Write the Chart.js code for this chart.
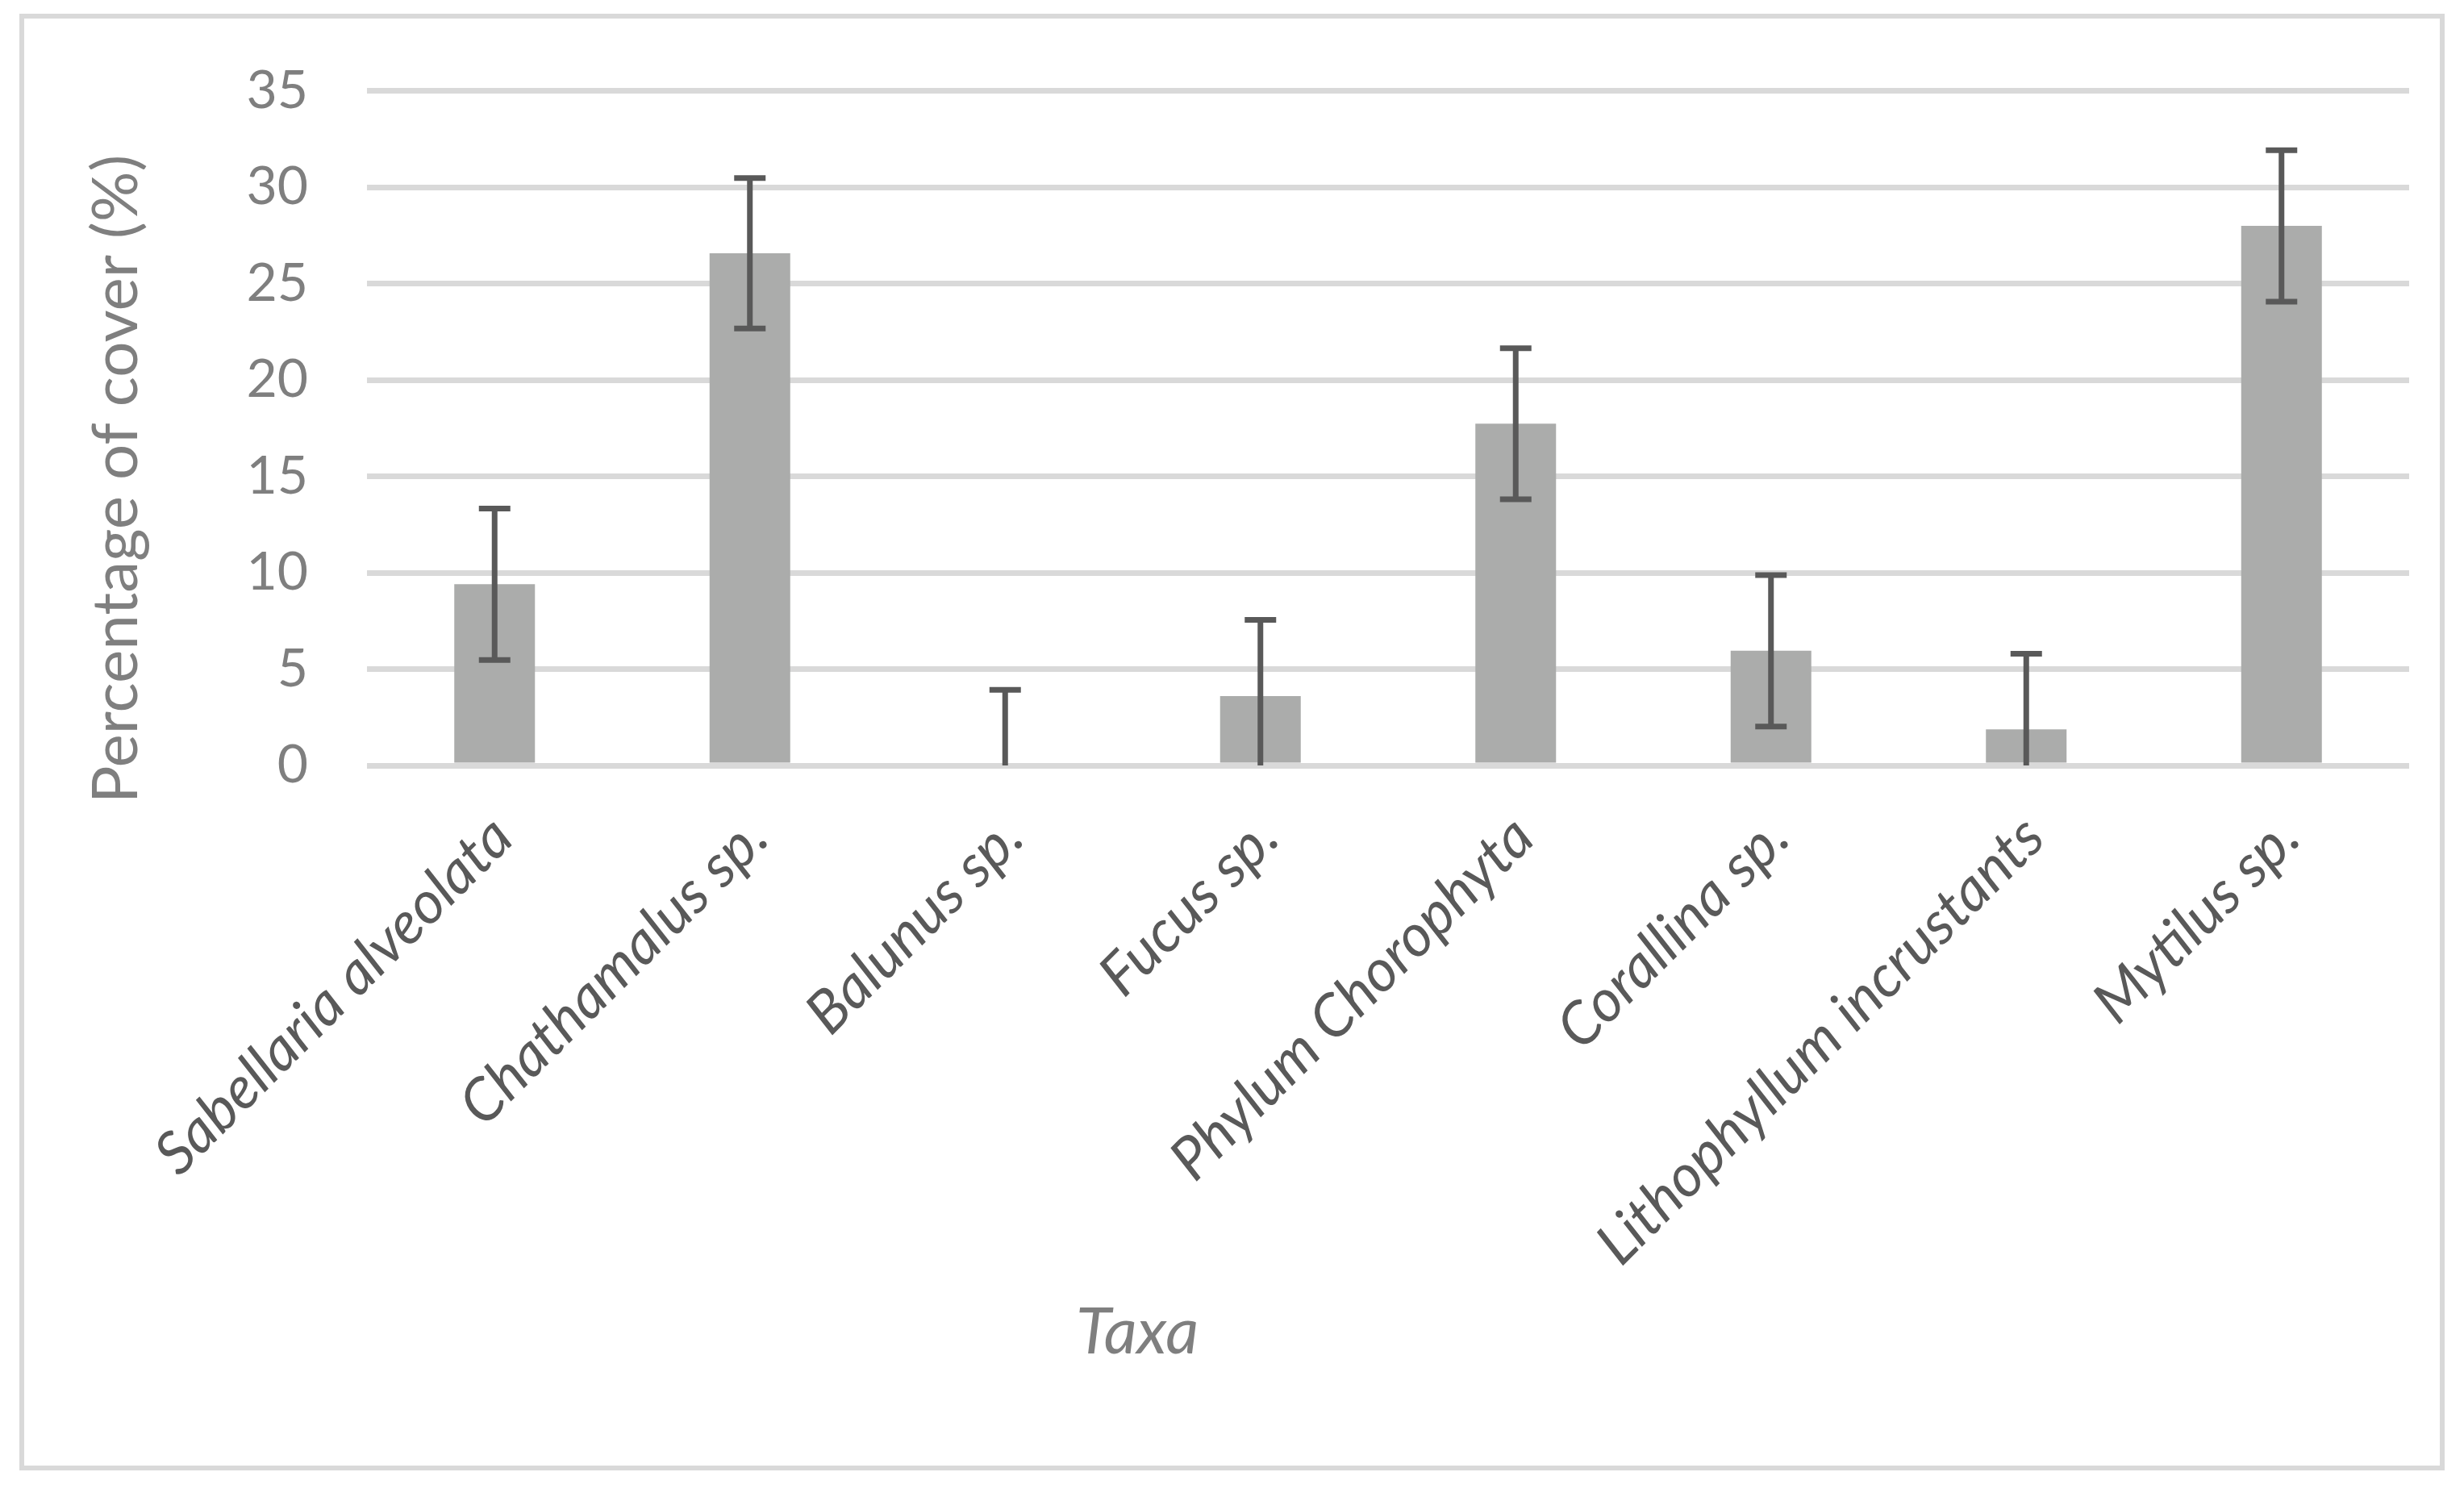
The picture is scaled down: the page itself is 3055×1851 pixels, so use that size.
<!DOCTYPE html>
<html>
<head>
<meta charset="utf-8">
<title>Percentage of cover by taxa</title>
<script src="https://cdn.jsdelivr.net/npm/chart.js@4.4.1/dist/chart.umd.min.js"></script>
<style>
  html, body { margin: 0; padding: 0; background: #fff; }
  #wrap { width: 3055px; height: 1851px; }
</style>
</head>
<body>
<div id="wrap"><canvas id="myChart" width="3055" height="1851"></canvas></div>
<script>
// values
const taxa = [
  "Sabellaria alveolata",
  "Chathamalus sp.",
  "Balunus sp.",
  "Fucus sp.",
  "Phylum Chorophyta",
  "Corallina sp.",
  "Lithophyllum incrustants",
  "Mytilus sp.",
];
const cover = [9.4, 26.57, 0, 3.6, 17.73, 5.95, 1.87, 27.99];
const coverError = [3.93, 3.9, 3.92, 3.95, 3.92, 3.93, 3.93, 3.93];
const yTicks = [0, 5, 10, 15, 20, 25, 30, 35];

const yTitle = "Percentage of cover (%)";
const xTitle = "Taxa";

// error bars, clipped to the plot area like Excel does
const errorBars = {
  id: "errorBars",
  afterDatasetsDraw(chart) {
    const { ctx, chartArea: area } = chart;
    const y = chart.scales.y;
    const meta = chart.getDatasetMeta(0);
    ctx.save();
    ctx.beginPath();
    ctx.rect(area.left, area.top - 30, area.width, area.height + 30);
    ctx.clip();
    ctx.strokeStyle = "#595959";
    ctx.lineWidth = 7;
    meta.data.forEach((bar, i) => {
      const x = bar.x;
      const hi = y.getPixelForValue(cover[i] + coverError[i]);
      const lo = y.getPixelForValue(cover[i] - coverError[i]);
      ctx.beginPath();
      ctx.moveTo(x, hi);
      ctx.lineTo(x, lo);
      ctx.moveTo(x - 19.5, hi);
      ctx.lineTo(x + 19.5, hi);
      ctx.moveTo(x - 19.5, lo);
      ctx.lineTo(x + 19.5, lo);
      ctx.stroke();
    });
    ctx.restore();
  },
};

// axis titles + outer chart frame
const frame = {
  id: "frame",
  afterDraw(chart) {
    const { ctx } = chart;
    ctx.save();
    ctx.fillStyle = "#7f7f7f";
    ctx.font = "78px Lato";
    ctx.textAlign = "center";
    ctx.textBaseline = "alphabetic";
    ctx.translate(170, 594);
    ctx.rotate(-Math.PI / 2);
    ctx.fillText(yTitle, 0, 0);
    ctx.restore();

    ctx.save();
    ctx.fillStyle = "#7f7f7f";
    ctx.font = "italic 80px Lato";
    ctx.textAlign = "center";
    ctx.textBaseline = "alphabetic";
    ctx.fillText(xTitle, 1410, 1678);
    ctx.strokeStyle = "#d9d9d9";
    ctx.lineWidth = 6;
    ctx.strokeRect(27, 20, 3001, 1800);
    ctx.restore();
  },
};

new Chart(document.getElementById("myChart"), {
  type: "bar",
  data: {
    labels: taxa,
    datasets: [
      {
        label: "Cover",
        data: cover,
        backgroundColor: "#abacab",
        borderWidth: 0,
        barPercentage: 0.316,
        categoryPercentage: 1,
      },
    ],
  },
  options: {
    responsive: false,
    animation: false,
    devicePixelRatio: 1,
    layout: { padding: { top: 112, left: 0, right: 68, bottom: 0 } },
    plugins: {
      legend: { display: false },
      tooltip: { enabled: false },
    },
    scales: {
      x: {
        afterFit: (s) => { s.height = 902; },
        grid: { display: false },
        border: { display: false },
        ticks: {
          color: "#595959",
          font: { family: "Lato", size: 73, style: "italic" },
          minRotation: 45,
          maxRotation: 45,
          autoSkip: false,
          padding: 38,
          labelOffset: 10,
        },
      },
      y: {
        min: 0,
        max: 35,
        afterBuildTicks: (s) => { s.ticks = yTicks.map((v) => ({ value: v })); },
        afterFit: (s) => { s.width = 455; },
        border: { display: false },
        grid: { color: "#d9d9d9", lineWidth: 7, drawTicks: false },
        ticks: {
          color: "#7f7f7f",
          font: { family: "Lato", size: 66 },
          padding: 73,
        },
      },
    },
  },
  plugins: [errorBars, frame],
});
</script>
</body>
</html>
